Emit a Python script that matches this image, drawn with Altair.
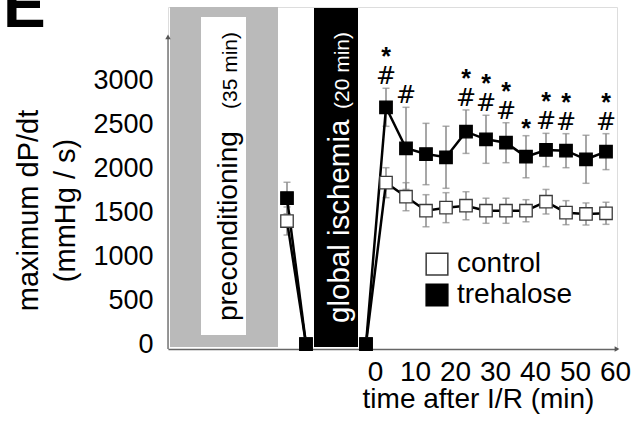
import altair as alt
import pandas as pd

FONT = "Liberation Sans"

# ---------------- data ----------------
groups = ["control", "trehalose"]

# reperfusion time points (min after I/R)
rep_time = [5, 10, 15, 20, 25, 30, 35, 40, 45, 50, 55, 60]
ctrl_mean = [1840, 1680, 1520, 1555, 1577, 1520, 1520, 1520, 1623, 1498, 1483, 1491]
ctrl_sem = [171, 160, 183, 171, 160, 143, 143, 126, 140, 137, 126, 126]
treh_mean = [2700, 2232, 2167, 2130, 2422, 2335, 2296, 2136, 2213, 2205, 2107, 2194]
treh_sem = [217, 468, 350, 354, 248, 274, 228, 240, 190, 194, 274, 205]

# significance marks above the trehalose points
hash_mark = [1, 1, 0, 0, 1, 1, 1, 0, 1, 1, 0, 1]
star_mark = [1, 0, 0, 0, 1, 1, 1, 1, 1, 1, 0, 1]

# baseline before the protocol (schematic position on the time axis)
base_time = -19.75
ctrl_base, ctrl_base_sem = 1403, 160
treh_base, treh_base_sem = 1665, 180

# zero-pressure points just before / after ischemia (schematic positions)
stop_time = [-15, 0]
stop_value = [0, 0]

# protocol boxes (schematic positions)
phase_label = ["preconditioning", "global ischemia"]
phase_note = ["(35 min)", "(20 min)"]
phase_start = [-49, -13]
phase_end = [-22, -2]
phase_top = [3844, 3833]
phase_fill = ["#bababa", "black"]
phase_text_color = ["black", "white"]
phase_text_size = [28, 29.5]
phase_text_t = [-32.25, -4.25]
phase_text_v = [262, 240]
phase_note_v = [3559, 3559]
precond_window = {"t": -41.25, "t2": -30, "v": 103, "v2": 3730}

x_ticks = [0, 10, 20, 30, 40, 50, 60]
y_ticks = [0, 500, 1000, 1500, 2000, 2500, 3000]

# ---------------- tables ----------------
rows = []
for g, bm, bs, means, sems in [
    ("control", ctrl_base, ctrl_base_sem, ctrl_mean, ctrl_sem),
    ("trehalose", treh_base, treh_base_sem, treh_mean, treh_sem),
]:
    rows.append(dict(group=g, seg=g + "_a", t=base_time, v=bm, sem=bs))
    rows.append(dict(group=g, seg=g + "_a", t=stop_time[0], v=stop_value[0], sem=0))
    rows.append(dict(group=g, seg=g + "_b", t=stop_time[1], v=stop_value[1], sem=0))
    for tt, m, s in zip(rep_time, means, sems):
        rows.append(dict(group=g, seg=g + "_b", t=tt, v=m, sem=s))
df = pd.DataFrame(rows)
df["lo"] = df["v"] - df["sem"]
df["hi"] = df["v"] + df["sem"]
err_df = df[df["sem"] > 0]

ann = pd.DataFrame({
    "t": rep_time,
    "top": [m + s for m, s in zip(treh_mean, treh_sem)],
    "hash": hash_mark,
    "star": star_mark,
})

boxes = pd.DataFrame({
    "t": phase_start, "t2": phase_end,
    "v": [-34, -34], "v2": phase_top,
    "fill": phase_fill,
})
window = pd.DataFrame([precond_window])
ptext = pd.DataFrame({
    "label": phase_label, "note": phase_note,
    "t": phase_text_t, "v": phase_text_v, "vn": phase_note_v,
    "color": phase_text_color, "size": phase_text_size,
})

legend_df = pd.DataFrame({
    "group": groups, "t": [17.75, 17.75], "tt": [22.75, 22.75], "v": [912, 559],
})

axis_line = pd.DataFrame({"t": [-49.5], "v": [-57], "v2": [3502]})
arrow_up = pd.DataFrame({"t": [-49.5], "v": [3502]})
arrow_right = pd.DataFrame({"t": [62.75], "v": [-57]})
panel_df = pd.DataFrame({"p": ["E"]})

# ---------------- scales / axes ----------------
xs = alt.Scale(domain=[-49.5, 62.75], nice=False, zero=False)
ys = alt.Scale(domain=[-57, 3844], nice=False, zero=False)

x_axis = alt.Axis(
    values=x_ticks, labelFontSize=28, labelPadding=9.5, labelOffset=9,
    ticks=False, tickSize=0, domain=True, domainColor="#666666", domainWidth=1.5,
    grid=False, labelFlush=False, labelOverlap=False, labelColor="black",
    title="time after I/R (min)", titleFontSize=28, titleFontWeight="normal",
    titleX=310, titleY=58.7, titleAlign="center", titleBaseline="alphabetic",
    titleColor="black",
)
y_axis = alt.Axis(
    values=y_ticks, format="d", labelFontSize=27, labelPadding=15, ticks=False, tickSize=0,
    domain=False, grid=False, labelColor="black",
    title=["maximum dP/dt", "(mmHg / s)"], titleFontSize=29, titleFontWeight="normal",
    titleAngle=270, titleX=-131, titleY=203, titleAlign="center",
    titleBaseline="alphabetic", titleLineHeight=37, titleColor="black",
)

fill_scale = alt.Scale(domain=groups, range=["white", "black"])
stroke_scale = alt.Scale(domain=groups, range=["#3a3a3a", "black"])


def X(f="t"):
    return alt.X(f"{f}:Q", scale=xs, axis=x_axis)


def Y(f="v"):
    return alt.Y(f"{f}:Q", scale=ys, axis=y_axis)


# ---------------- layers ----------------
box_layer = alt.Chart(boxes).mark_rect().encode(
    x=X(), x2="t2:Q", y=Y(), y2="v2:Q", fill=alt.Fill("fill:N", scale=None)
)
window_layer = alt.Chart(window).mark_rect(color="white").encode(
    x=X(), x2="t2:Q", y=Y(), y2="v2:Q"
)
phase_main = alt.Chart(ptext).mark_text(
    angle=270, align="left", baseline="alphabetic"
).encode(
    x=X(), y=Y(), text="label:N",
    color=alt.Color("color:N", scale=None),
    size=alt.Size("size:Q", scale=None),
)
phase_sub = alt.Chart(ptext).mark_text(
    angle=270, align="right", baseline="alphabetic", fontSize=21
).encode(x=X(), y=Y("vn"), text="note:N", color=alt.Color("color:N", scale=None))

err_rule = alt.Chart(err_df).mark_rule(color="#8a8a8a", strokeWidth=1.5).encode(
    x=X(), y=Y("lo"), y2="hi:Q"
)
err_cap_lo = alt.Chart(err_df).mark_tick(
    color="#8a8a8a", orient="horizontal", size=7, thickness=1.5
).encode(x=X(), y=Y("lo"))
err_cap_hi = alt.Chart(err_df).mark_tick(
    color="#8a8a8a", orient="horizontal", size=7, thickness=1.5
).encode(x=X(), y=Y("hi"))

lines = alt.Chart(df).mark_line(color="black", strokeWidth=2.5).encode(
    x=X(), y=Y(), detail="seg:N", order="t:Q"
)

points = alt.Chart(df).mark_point(
    shape="square", filled=True, size=155, strokeWidth=1.3, opacity=1
).encode(
    x=X(), y=Y(),
    fill=alt.Fill("group:N", scale=fill_scale, legend=None),
    stroke=alt.Stroke("group:N", scale=stroke_scale, legend=None),
)

hash_layer = alt.Chart(ann).transform_filter("datum.hash == 1").mark_text(
    text="#", font="DejaVu Sans", fontSize=24, dy=-4, baseline="alphabetic", color="black"
).encode(x=X(), y=Y("top"))
star_hi = alt.Chart(ann).transform_filter("datum.star == 1 && datum.hash == 1").mark_text(
    text="*", fontSize=25, dy=-23, baseline="alphabetic", color="black", fontWeight="bold"
).encode(x=X(), y=Y("top"))
star_lo = alt.Chart(ann).transform_filter("datum.star == 1 && datum.hash == 0").mark_text(
    text="*", fontSize=25, dy=1, baseline="alphabetic", color="black", fontWeight="bold"
).encode(x=X(), y=Y("top"))

legend_sym = alt.Chart(legend_df).mark_point(
    shape="square", filled=True, size=470, strokeWidth=1.5, opacity=1
).encode(
    x=X(), y=Y(),
    fill=alt.Fill("group:N", scale=fill_scale, legend=None),
    stroke=alt.Stroke("group:N", scale=stroke_scale, legend=None),
)
legend_txt = alt.Chart(legend_df).mark_text(
    align="left", baseline="middle", fontSize=28, color="black"
).encode(x=X("tt"), y=Y(), text="group:N")

yline = alt.Chart(axis_line).mark_rule(color="#777777", strokeWidth=1.5).encode(
    x=X(), y=Y(), y2="v2:Q"
)
yarrow = alt.Chart(arrow_up).mark_point(
    shape="triangle-up", filled=True, size=30, color="#555555", opacity=1
).encode(x=X(), y=Y())
xarrow = alt.Chart(arrow_right).mark_point(
    shape="triangle-right", filled=True, size=30, color="#555555", opacity=1
).encode(x=X(), y=Y())

panel = alt.Chart(panel_df).mark_text(
    fontSize=64, fontWeight="bold", align="left", baseline="alphabetic", color="black"
).encode(x=alt.value(-165), y=alt.value(20), text="p:N")

chart = alt.layer(
    box_layer, window_layer, phase_main,
    err_rule, err_cap_lo, err_cap_hi,
    lines,
    box_layer.transform_filter("datum.fill == 'black'"),
    phase_main.transform_filter("datum.color == 'white'"),
    phase_sub,
    points,
    hash_layer, star_hi, star_lo,
    legend_sym, legend_txt,
    yline, yarrow, xarrow, panel,
).properties(
    width=449, height=342,
    autosize=alt.AutoSizeParams(type="none"),
    padding={"left": 168, "top": 7, "right": 16, "bottom": 75},
).configure_view(stroke=None).configure(font=FONT)

chart.save("out.html", embed_options={"renderer": "svg", "actions": False})
